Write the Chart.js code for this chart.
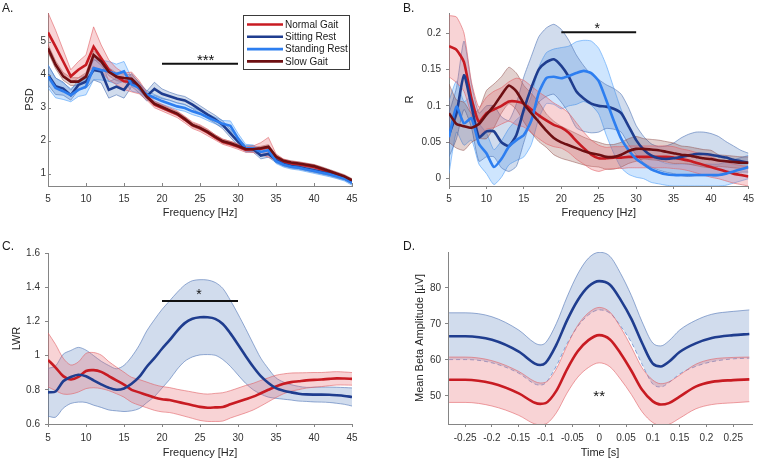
<!DOCTYPE html>
<html><head><meta charset="utf-8">
<script src="https://cdn.jsdelivr.net/npm/chart.js@4.4.1/dist/chart.umd.min.js"></script>
<style>
html,body{margin:0;padding:0;background:#fff;overflow:hidden;}
#wrap{position:relative;width:758px;height:460px;background:#fff;}
canvas{position:absolute;}
</style></head><body>
<div id="wrap">
<canvas id="cA" width="379" height="225" style="left:0;top:0;width:379px;height:225px"></canvas>
<canvas id="cB" width="379" height="225" style="left:379px;top:0;width:379px;height:225px"></canvas>
<canvas id="cC" width="379" height="235" style="left:0;top:225px;width:379px;height:235px"></canvas>
<canvas id="cD" width="379" height="235" style="left:379px;top:225px;width:379px;height:235px"></canvas>
</div>
<script>
// ---------------- DATA ----------------
const seriesNames = ['Normal Gait', 'Sitting Rest', 'Standing Rest', 'Slow Gait'];
const freqHz = [5,6,7,8,9,10,11,12,13,14,15,16,17,18,19,20,21,22,23,24,25,26,27,28,29,30,31,32,33,34,35,36,37,38,39,40,41,42,43,44,45];
const freqTicks = [5,10,15,20,25,30,35,40,45];
const freqTickLabels = ['5','10','15','20','25','30','35','40','45'];

// Panel A: PSD
const psdNormal   = [5.28,4.85,4.4,3.95,4.15,4.3,4.85,4.5,4.15,3.95,3.8,3.78,3.62,3.35,3.1,3.0,2.9,2.8,2.64,2.47,2.38,2.25,2.1,1.97,1.9,1.82,1.73,1.74,1.76,1.8,1.5,1.36,1.31,1.28,1.24,1.2,1.13,1.05,0.98,0.9,0.77];
const psdNormalErr= [0.6,0.5,0.35,0.2,0.25,0.3,0.6,0.4,0.3,0.25,0.25,0.3,0.2,0.12,0.1,0.1,0.1,0.1,0.1,0.1,0.1,0.1,0.08,0.08,0.08,0.08,0.08,0.1,0.18,0.3,0.1,0.08,0.07,0.07,0.07,0.07,0.06,0.06,0.05,0.05,0.05];
const psdSitting  = [4.0,3.65,3.58,3.38,3.69,3.79,4.14,4.1,3.54,3.64,3.54,3.84,3.6,3.35,3.57,3.42,3.35,3.27,3.22,3.09,2.94,2.79,2.65,2.48,2.22,1.97,1.77,1.75,1.55,1.6,1.42,1.29,1.23,1.2,1.15,1.1,1.05,1.0,0.93,0.87,0.75];
const psdSittingErr=[0.3,0.25,0.2,0.15,0.15,0.2,0.3,0.35,0.25,0.25,0.25,0.2,0.15,0.15,0.2,0.15,0.12,0.12,0.12,0.12,0.12,0.12,0.12,0.12,0.12,0.12,0.08,0.1,0.1,0.1,0.08,0.06,0.06,0.06,0.06,0.06,0.06,0.06,0.06,0.06,0.06];
const psdStanding = [3.95,3.6,3.5,3.38,3.54,3.64,4.2,4.14,4.1,4.02,4.1,3.7,3.6,3.4,3.3,3.2,3.12,3.04,2.99,2.89,2.82,2.71,2.61,2.51,2.45,2.07,1.77,1.77,1.66,1.71,1.38,1.27,1.21,1.18,1.13,1.08,1.03,0.98,0.92,0.85,0.72];
const psdStandingErr=[0.35,0.3,0.25,0.2,0.2,0.25,0.35,0.3,0.3,0.3,0.3,0.2,0.15,0.12,0.1,0.1,0.1,0.1,0.1,0.1,0.1,0.1,0.1,0.1,0.15,0.15,0.12,0.1,0.08,0.08,0.07,0.07,0.07,0.07,0.07,0.07,0.07,0.07,0.07,0.07,0.07];
const psdSlow     = [4.8,4.3,3.95,3.79,3.79,3.94,4.6,4.4,4.09,3.94,3.9,3.88,3.65,3.33,3.12,3.02,2.92,2.82,2.66,2.48,2.39,2.27,2.12,1.98,1.92,1.84,1.75,1.74,1.77,1.82,1.52,1.39,1.34,1.31,1.27,1.23,1.16,1.08,1.0,0.92,0.8];
const psdSlowErr  = [0.12,0.12,0.12,0.12,0.12,0.12,0.12,0.12,0.12,0.12,0.12,0.12,0.12,0.06,0.06,0.06,0.06,0.06,0.06,0.06,0.06,0.06,0.06,0.06,0.06,0.06,0.06,0.06,0.06,0.06,0.05,0.05,0.05,0.05,0.05,0.05,0.05,0.05,0.05,0.05,0.05];
const psdTicks = [1,2,3,4,5];
const psdTickLabels = ['1','2','3','4','5'];

// Panel B: R
const rNormal    = [0.182,0.177,0.16,0.11,0.078,0.09,0.095,0.1,0.106,0.106,0.103,0.095,0.087,0.08,0.074,0.07,0.063,0.052,0.042,0.033,0.028,0.028,0.029,0.029,0.03,0.03,0.03,0.03,0.03,0.03,0.029,0.027,0.025,0.022,0.019,0.016,0.013,0.01,0.007,0.005,0.003];
const rNormalErr = [0.042,0.045,0.04,0.023,0.02,0.022,0.025,0.025,0.027,0.032,0.032,0.032,0.032,0.032,0.03,0.028,0.027,0.025,0.022,0.02,0.018,0.015,0.015,0.015,0.015,0.015,0.015,0.015,0.015,0.015,0.015,0.014,0.014,0.014,0.014,0.014,0.013,0.013,0.013,0.013,0.013];
const rSitting   = [0.06,0.09,0.142,0.1,0.057,0.065,0.065,0.05,0.045,0.06,0.095,0.125,0.15,0.16,0.164,0.155,0.14,0.12,0.11,0.103,0.1,0.099,0.096,0.09,0.072,0.053,0.04,0.032,0.028,0.027,0.028,0.03,0.032,0.034,0.034,0.033,0.031,0.029,0.026,0.024,0.022];
const rSittingErr= [0.03,0.035,0.047,0.03,0.033,0.035,0.035,0.035,0.035,0.043,0.045,0.043,0.045,0.047,0.048,0.05,0.05,0.05,0.045,0.04,0.036,0.03,0.028,0.026,0.025,0.02,0.018,0.016,0.016,0.018,0.021,0.026,0.029,0.03,0.03,0.029,0.027,0.022,0.019,0.015,0.013];
const rStanding  = [0.057,0.099,0.076,0.083,0.048,0.035,0.016,0.027,0.044,0.053,0.06,0.08,0.118,0.138,0.14,0.138,0.141,0.145,0.148,0.145,0.134,0.108,0.08,0.055,0.039,0.027,0.02,0.013,0.009,0.006,0.005,0.005,0.005,0.005,0.005,0.005,0.005,0.007,0.01,0.013,0.016];
const rStandingErr=[0.05,0.035,0.03,0.03,0.028,0.028,0.024,0.025,0.025,0.028,0.03,0.033,0.035,0.035,0.038,0.042,0.041,0.043,0.042,0.044,0.045,0.048,0.045,0.04,0.033,0.025,0.02,0.018,0.016,0.015,0.015,0.015,0.015,0.015,0.015,0.015,0.015,0.016,0.016,0.016,0.016];
const rSlow      = [0.09,0.075,0.072,0.07,0.075,0.088,0.1,0.115,0.128,0.12,0.103,0.09,0.078,0.066,0.056,0.05,0.046,0.042,0.038,0.035,0.033,0.03,0.03,0.033,0.038,0.041,0.041,0.04,0.039,0.037,0.035,0.033,0.032,0.03,0.028,0.027,0.025,0.024,0.023,0.022,0.022];
const rSlowErr   = [0.04,0.033,0.033,0.02,0.02,0.033,0.03,0.025,0.025,0.025,0.025,0.027,0.027,0.023,0.023,0.022,0.021,0.02,0.019,0.018,0.017,0.017,0.017,0.017,0.017,0.017,0.014,0.014,0.014,0.014,0.014,0.012,0.012,0.012,0.012,0.012,0.008,0.008,0.008,0.008,0.008];
const rTicks = [0,0.05,0.1,0.15,0.2];
const rTickLabels = ['0','0.05','0.1','0.15','0.2'];

// Panel C: LWR
const lwrGait    = [0.975,0.93,0.88,0.86,0.875,0.91,0.915,0.905,0.88,0.855,0.83,0.8,0.785,0.77,0.755,0.745,0.74,0.73,0.72,0.71,0.7,0.695,0.697,0.7,0.715,0.73,0.745,0.76,0.78,0.8,0.82,0.835,0.845,0.85,0.855,0.858,0.86,0.864,0.867,0.866,0.864];
const lwrGaitErr = [0.158,0.135,0.105,0.085,0.088,0.103,0.103,0.098,0.085,0.078,0.073,0.073,0.075,0.075,0.075,0.074,0.073,0.073,0.075,0.077,0.079,0.08,0.082,0.083,0.08,0.08,0.08,0.078,0.075,0.07,0.065,0.058,0.053,0.049,0.045,0.043,0.041,0.04,0.039,0.038,0.037];
const lwrRest    = [0.785,0.79,0.85,0.875,0.888,0.879,0.855,0.832,0.812,0.8,0.808,0.835,0.875,0.935,0.985,1.04,1.09,1.145,1.19,1.215,1.224,1.224,1.215,1.185,1.13,1.065,0.998,0.935,0.88,0.84,0.81,0.795,0.785,0.777,0.773,0.772,0.772,0.771,0.768,0.764,0.758];
const lwrRestErr = [0.14,0.15,0.158,0.155,0.16,0.153,0.145,0.135,0.13,0.123,0.135,0.158,0.185,0.21,0.225,0.23,0.23,0.225,0.223,0.223,0.22,0.218,0.213,0.208,0.193,0.178,0.16,0.135,0.105,0.083,0.06,0.05,0.045,0.043,0.041,0.043,0.044,0.045,0.047,0.049,0.053];
const lwrTicks = [0.6,0.8,1,1.2,1.4,1.6];
const lwrTickLabels = ['0.6','0.8','1','1.2','1.4','1.6'];

// Panel D: Mean beta amplitude
const timeS      = [-0.28,-0.25,-0.2,-0.15,-0.12,-0.11,-0.1,-0.08,-0.06,-0.04,-0.02,0,0.02,0.04,0.06,0.08,0.1,0.115,0.13,0.15,0.18,0.21,0.25,0.28];
const ampRest    = [66.6,66.6,65.6,62.3,59.0,58.6,59.2,64.2,71.0,76.6,80.4,81.9,80.9,76.7,71.4,64.7,59.0,58.2,59.5,62.2,64.6,66.1,66.9,67.2];
const ampRestErr = [6.5,6.5,6.4,6.0,5.7,5.6,5.6,5.9,6.5,7.3,7.9,8.0,7.9,7.3,6.5,5.9,5.7,5.7,5.8,6.1,6.4,6.6,6.6,6.7];
const ampGait    = [54.5,54.5,53.5,50.7,48.1,47.8,48.0,51.4,57.4,62.4,65.5,66.9,65.7,61.8,57.0,51.7,48.5,47.6,48.0,49.8,52.6,53.9,54.4,54.6];
const ampGaitErr = [6.3,6.3,6.3,6.1,5.9,5.8,5.8,6.1,6.6,7.2,7.6,7.7,7.6,7.2,6.6,6.1,5.9,5.8,5.9,6.0,6.2,6.3,6.3,6.2];
const timeTicks = [-0.25,-0.2,-0.15,-0.1,-0.05,0,0.05,0.1,0.15,0.2,0.25];
const timeTickLabels = ['-0.25','-0.2','-0.15','-0.1','-0.05','0','0.05','0.1','0.15','0.2','0.25'];
const ampTicks = [50,60,70,80];
const ampTickLabels = ['50','60','70','80'];

// Significance
const sigRangeHz = [20, 30];
const sigLevels = [4.33, 0.201, 1.32];
const sigMarks = ['***', '*', '*', '**'];

// ---------------- STYLE ----------------
const FONT = "'Liberation Sans', Arial, Helvetica, sans-serif";
Chart.defaults.font.family = FONT;
Chart.defaults.font.size = 10;
Chart.defaults.color = '#333333';
const AX = '#858585';
const COL = {normal:'#c81b22', sitting:'#1f3d8f', standing:'#2d7ef0', slow:'#6e0f12'};
const BAND = {
  normal:   {fill:'rgba(232,110,115,0.30)', edge:'rgba(225,95,100,0.75)'},
  sitting:  {fill:'rgba(70,115,185,0.25)',  edge:'rgba(90,125,185,0.8)'},
  standing: {fill:'rgba(60,150,250,0.25)',  edge:'rgba(90,165,250,0.8)'},
  slow:     {fill:'rgba(125,45,35,0.22)',   edge:'rgba(140,70,65,0.6)'}
};

function pts(xs, ys) { return xs.map((x, i) => ({x, y: ys[i]})); }
function meanDS(xs, ys, color) {
  return {data: pts(xs, ys), borderColor: color, borderWidth: 2.6, pointRadius: 0, fill: false, order: 0, clip: 0};
}
function bandDS(xs, mean, err, st, order, dashLower, dashColor) {
  const up = xs.map((x, i) => ({x, y: mean[i] + err[i]}));
  const lo = xs.map((x, i) => ({x, y: mean[i] - err[i]}));
  return [
    {data: up, borderColor: st.edge, borderWidth: 0.8, backgroundColor: st.fill, fill: '+1', pointRadius: 0, order, clip: 0},
    {data: lo, borderColor: dashColor || st.edge, borderWidth: dashLower ? 1 : 0.8, borderDash: dashLower ? [4, 3] : [], fill: false, pointRadius: 0, order, clip: 0}
  ];
}
function sigDS(level) {
  return {data: [{x: sigRangeHz[0], y: level}, {x: sigRangeHz[1], y: level}], borderColor: '#111', borderWidth: 2, pointRadius: 0, fill: false, order: 0, tension: 0, clip: false};
}

function xScale(min, max, ticks, labels, title, o) {
  return {
    type: 'linear', min, max, z: 1,
    afterBuildTicks: s => { s.ticks = ticks.map(v => ({value: v})); },
    afterFit: s => { s.height = o.h; },
    grid: {display: true, drawOnChartArea: false, drawTicks: o.tl > 0, tickLength: o.tl, color: AX, tickColor: AX},
    border: {display: true, color: AX, width: 1},
    ticks: {autoSkip: false, maxRotation: 0, minRotation: 0, padding: o.pad, color: '#333', font: {size: 10}, callback: (v, i) => labels[i]},
    title: {display: true, text: title, color: '#262626', font: {size: 11}, padding: 0}
  };
}
function yScale(min, max, ticks, labels, title, o) {
  return {
    type: 'linear', min, max, z: 1,
    afterBuildTicks: s => { s.ticks = ticks.map(v => ({value: v})); },
    afterFit: s => { s.width = o.w; },
    grid: {display: true, drawOnChartArea: false, drawTicks: o.tl > 0, tickLength: o.tl, color: AX, tickColor: AX},
    border: {display: true, color: AX, width: 1},
    ticks: {autoSkip: false, padding: o.pad, color: '#333', font: {size: 10}, callback: (v, i) => labels[i]},
    title: {display: true, text: title, color: '#262626', font: {size: 11}, padding: 0}
  };
}

const inwardTicks = {
  id: 'inwardTicks',
  afterDraw(chart) {
    const {ctx, chartArea: a, scales: {x, y}} = chart;
    ctx.save();
    ctx.strokeStyle = AX; ctx.lineWidth = 1;
    ctx.beginPath();
    x.ticks.forEach(t => { const px = Math.round(x.getPixelForValue(t.value)) + 0.5; ctx.moveTo(px, a.bottom); ctx.lineTo(px, a.bottom - 3); });
    y.ticks.forEach(t => { const py = Math.round(y.getPixelForValue(t.value)) + 0.5; ctx.moveTo(a.left, py); ctx.lineTo(a.left + 3, py); });
    ctx.stroke();
    ctx.restore();
  }
};

function annot(cfg) {
  return {
    id: 'annot',
    afterDraw(chart) {
      const {ctx, chartArea: a, scales: {x, y}} = chart;
      ctx.save();
      ctx.fillStyle = '#1a1a1a';
      ctx.font = '12px ' + FONT;
      ctx.textAlign = 'left'; ctx.textBaseline = 'alphabetic';
      ctx.fillText(cfg.letter, cfg.lx, cfg.ly);
      if (cfg.star) {
        ctx.font = cfg.star.size + 'px ' + FONT;
        ctx.textAlign = 'center';
        const m = ctx.measureText(cfg.star.text);
        const cy = y.getPixelForValue(cfg.star.y);
        const base = cy + (m.actualBoundingBoxAscent - m.actualBoundingBoxDescent) / 2;
        ctx.fillStyle = '#111';
        ctx.fillText(cfg.star.text, x.getPixelForValue(cfg.star.x), base);
      }
      if (cfg.legend) {
        const L = a.right - 109, T = a.top + 2, W = 106, H = 54;
        ctx.fillStyle = '#fff'; ctx.fillRect(L, T, W, H);
        ctx.strokeStyle = '#3a3a3a'; ctx.lineWidth = 1; ctx.strokeRect(L + 0.5, T + 0.5, W, H);
        const cols = [COL.normal, COL.sitting, COL.standing, COL.slow];
        ctx.font = '10px ' + FONT; ctx.textAlign = 'left'; ctx.textBaseline = 'middle';
        seriesNames.forEach((n, i) => {
          const yy = T + 9.5 + i * 12.3;
          ctx.strokeStyle = cols[i]; ctx.lineWidth = 2.6;
          ctx.beginPath(); ctx.moveTo(L + 4, yy); ctx.lineTo(L + 40, yy); ctx.stroke();
          ctx.fillStyle = '#1a1a1a';
          ctx.fillText(n, L + 42, yy + 0.5);
        });
      }
      ctx.restore();
    }
  };
}

const baseOpts = (padding) => ({
  responsive: false, animation: false, devicePixelRatio: 1, events: [],
  layout: {padding},
  plugins: {legend: {display: false}, tooltip: {enabled: false}}
});

// ---------------- PANEL A ----------------
new Chart(document.getElementById('cA'), {
  type: 'line',
  data: {datasets: [
    sigDS(sigLevels[0]),
    meanDS(freqHz, psdSlow, COL.slow),
    meanDS(freqHz, psdStanding, COL.standing),
    meanDS(freqHz, psdSitting, COL.sitting),
    meanDS(freqHz, psdNormal, COL.normal),
    ...bandDS(freqHz, psdNormal, psdNormalErr, BAND.normal, 1),
    ...bandDS(freqHz, psdSitting, psdSittingErr, BAND.sitting, 2),
    ...bandDS(freqHz, psdStanding, psdStandingErr, BAND.standing, 3),
    ...bandDS(freqHz, psdSlow, psdSlowErr, BAND.slow, 4)
  ]},
  options: Object.assign(baseOpts({left: 23, right: 27, top: 13, bottom: 5}), {
    elements: {line: {tension: 0}},
    scales: {
      x: xScale(5, 45, freqTicks, freqTickLabels, 'Frequency [Hz]', {h: 34, tl: 0, pad: 7}),
      y: yScale(0.627, 5.87, psdTicks, psdTickLabels, 'PSD', {w: 25, tl: 0, pad: 2})
    }
  }),
  plugins: [inwardTicks, annot({letter: 'A.', lx: 2, ly: 12, star: {text: sigMarks[0], x: 25.75, y: 4.5, size: 15}, legend: true})]
});

// ---------------- PANEL B ----------------
new Chart(document.getElementById('cB'), {
  type: 'line',
  data: {datasets: [
    sigDS(sigLevels[1]),
    meanDS(freqHz, rSlow, COL.slow),
    meanDS(freqHz, rStanding, COL.standing),
    meanDS(freqHz, rSitting, COL.sitting),
    meanDS(freqHz, rNormal, COL.normal),
    ...bandDS(freqHz, rNormal, rNormalErr, BAND.normal, 1),
    ...bandDS(freqHz, rSlow, rSlowErr, BAND.slow, 2),
    ...bandDS(freqHz, rSitting, rSittingErr, BAND.sitting, 3),
    ...bandDS(freqHz, rStanding, rStandingErr, BAND.standing, 4)
  ]},
  options: Object.assign(baseOpts({left: 24, right: 6, top: 13, bottom: 5}), {
    elements: {line: {tension: 0.2}},
    scales: {
      x: xScale(5, 45, freqTicks, freqTickLabels, 'Frequency [Hz]', {h: 34, tl: 3, pad: 4}),
      y: yScale(-0.01, 0.2275, rTicks, rTickLabels, 'R', {w: 46, tl: 3, pad: 5})
    }
  }),
  plugins: [annot({letter: 'B.', lx: 24, ly: 12, star: {text: sigMarks[1], x: 24.8, y: 0.2096, size: 14}})]
});

// ---------------- PANEL C ----------------
new Chart(document.getElementById('cC'), {
  type: 'line',
  data: {datasets: [
    sigDS(sigLevels[2]),
    meanDS(freqHz, lwrRest, COL.sitting),
    meanDS(freqHz, lwrGait, COL.normal),
    ...bandDS(freqHz, lwrGait, lwrGaitErr, BAND.normal, 1),
    ...bandDS(freqHz, lwrRest, lwrRestErr, BAND.sitting, 2)
  ]},
  options: Object.assign(baseOpts({left: 10, right: 27, top: 28, bottom: 0}), {
    elements: {line: {tension: 0.3}},
    scales: {
      x: xScale(5, 45, freqTicks, freqTickLabels, 'Frequency [Hz]', {h: 36, tl: 3, pad: 5}),
      y: yScale(0.6, 1.6, lwrTicks, lwrTickLabels, 'LWR', {w: 38, tl: 3, pad: 5})
    }
  }),
  plugins: [annot({letter: 'C.', lx: 2, ly: 25, star: {text: sigMarks[2], x: 24.87, y: 1.372, size: 14}})]
});

// ---------------- PANEL D ----------------
new Chart(document.getElementById('cD'), {
  type: 'line',
  data: {datasets: [
    meanDS(timeS, ampRest, COL.sitting),
    meanDS(timeS, ampGait, COL.normal),
    ...bandDS(timeS, ampGait, ampGaitErr, BAND.normal, 1),
    ...bandDS(timeS, ampRest, ampRestErr, BAND.sitting, 2, true, 'rgba(130,160,215,0.9)')
  ]},
  options: Object.assign(baseOpts({left: 34, right: 6, top: 27, bottom: 0}), {
    elements: {line: {tension: 0.4, cubicInterpolationMode: 'monotone'}},
    scales: {
      x: xScale(-0.282, 0.285, timeTicks, timeTickLabels, 'Time [s]', {h: 36, tl: 3, pad: 5}),
      y: yScale(42.2, 90, ampTicks, ampTickLabels, 'Mean Beta Amplitude [µV]', {w: 35, tl: 3, pad: 4})
    }
  }),
  plugins: [annot({letter: 'D.', lx: 24, ly: 25, star: {text: sigMarks[3], x: 0, y: 50.56, size: 15}})]
});
</script>
</body></html>
